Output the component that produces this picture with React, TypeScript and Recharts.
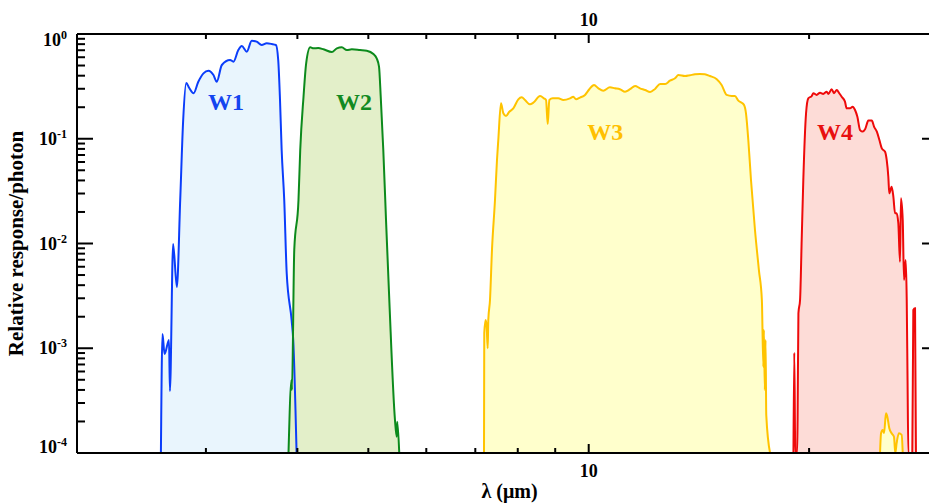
import React from 'react';
import { ComposedChart, Area, XAxis, YAxis, ReferenceDot, Label } from 'recharts';

// ---- data (wavelength in micron, relative response/photon)
const w1Wavelength = [2.604, 2.617, 2.634, 2.671, 2.679, 2.706, 2.738, 2.767, 2.793, 2.820, 2.847, 2.886, 2.928, 2.977, 3.024, 3.072, 3.104, 3.154, 3.237, 3.271, 3.322, 3.358, 3.411, 3.465, 3.519, 3.575, 3.632, 3.689, 3.739, 3.766, 3.786, 3.807, 3.838, 3.868, 3.928, 3.948, 3.990];
const w1Response = [1e-4, 1.37e-3, 8.8e-4, 1.2e-3, 3.9e-4, 9.9e-3, 3.85e-3, 0.026, 0.151, 0.340, 0.305, 0.272, 0.348, 0.421, 0.446, 0.406, 0.351, 0.506, 0.565, 0.544, 0.703, 0.768, 0.678, 0.863, 0.845, 0.785, 0.815, 0.803, 0.785, 0.565, 0.252, 0.078, 0.026, 5.2e-3, 1.86e-3, 1.2e-3, 1e-4];

const w2Wavelength = [3.890, 3.927, 3.932, 3.961, 4.014, 4.036, 4.078, 4.112, 4.165, 4.208, 4.271, 4.343, 4.458, 4.529, 4.600, 4.673, 4.747, 4.872, 4.975, 5.080, 5.133, 5.171, 5.199, 5.225, 5.241, 5.286, 5.341, 5.437, 5.466, 5.476, 5.511];
const w2Response = [1e-4, 4.97e-4, 4.0e-4, 8.7e-3, 0.026, 0.078, 0.252, 0.525, 0.746, 0.730, 0.735, 0.714, 0.673, 0.730, 0.746, 0.703, 0.714, 0.703, 0.693, 0.644, 0.586, 0.488, 0.252, 0.121, 0.078, 0.0168, 2.89e-3, 2.07e-4, 1.43e-4, 1.99e-4, 1e-4];

const w3Wavelength = [7.194, 7.200, 7.232, 7.255, 7.278, 7.292, 7.331, 7.377, 7.447, 7.494, 7.525, 7.589, 7.645, 7.709, 7.790, 7.889, 8.014, 8.100, 8.185, 8.314, 8.401, 8.581, 8.688, 8.744, 8.790, 8.835, 8.931, 9.086, 9.233, 9.429, 9.527, 9.609, 9.730, 9.884, 10.02, 10.17, 10.31, 10.47, 10.69, 10.86, 11.03, 11.21, 11.39, 11.57, 11.75, 11.94, 12.13, 12.32, 12.52, 12.72, 12.91, 13.12, 13.26, 13.54, 13.75, 13.97, 14.19, 14.41, 14.64, 14.96, 15.19, 15.43, 15.68, 15.84, 16.01, 16.18, 16.30, 16.40, 16.52, 16.66, 16.87, 17.08, 17.24, 17.32, 17.35, 17.40, 17.44, 17.48, 17.69];
const w3Response = [1e-4, 1.40e-3, 1.86e-3, 1.60e-3, 1.0e-3, 1.86e-3, 2.89e-3, 8.7e-3, 0.026, 0.0627, 0.0973, 0.218, 0.175, 0.165, 0.181, 0.195, 0.238, 0.249, 0.234, 0.213, 0.221, 0.256, 0.243, 0.234, 0.138, 0.234, 0.243, 0.243, 0.234, 0.243, 0.252, 0.238, 0.247, 0.262, 0.297, 0.326, 0.303, 0.288, 0.310, 0.303, 0.297, 0.281, 0.297, 0.319, 0.303, 0.292, 0.279, 0.299, 0.333, 0.333, 0.358, 0.378, 0.406, 0.397, 0.404, 0.412, 0.415, 0.412, 0.397, 0.370, 0.326, 0.262, 0.256, 0.256, 0.231, 0.221, 0.210, 0.175, 0.0973, 0.0404, 0.01345, 5.58e-3, 2.89e-3, 6.62e-4, 1.49e-3, 4.0e-4, 1.2e-3, 2.3e-4, 1e-4];

const w3TailWavelength = [25.00, 25.08, 25.21, 25.32, 25.47, 25.58, 25.74, 25.93, 26.12, 26.23, 26.34, 26.53, 26.76, 26.85];
const w3TailResponse = [1e-4, 1.54e-4, 1.66e-4, 1.55e-4, 2.39e-4, 2.22e-4, 1.72e-4, 1.54e-4, 1.43e-4, 1e-4, 1.24e-4, 1.54e-4, 1.49e-4, 1e-4];

const w4Wavelength = [19.04, 19.09, 19.15, 19.26, 19.29, 19.34, 19.44, 19.54, 19.64, 19.81, 19.95, 20.17, 20.27, 20.48, 20.70, 20.91, 21.14, 21.25, 21.47, 21.63, 21.82, 21.99, 22.16, 22.39, 22.51, 22.75, 22.94, 23.11, 23.28, 23.48, 23.68, 23.85, 24.10, 24.36, 24.54, 24.75, 24.95, 25.14, 25.40, 25.53, 25.66, 25.74, 25.93, 26.07, 26.21, 26.34, 26.48, 26.62, 26.70, 26.85, 26.96, 27.10, 27.19, 27.26, 27.33, 27.67, 27.76, 27.91, 27.99];
const w4Response = [1e-4, 9.06e-4, 1e-4, 1e-4, 2.07e-4, 2.16e-3, 2.89e-3, 0.0108, 0.0404, 0.175, 0.243, 0.256, 0.272, 0.262, 0.275, 0.268, 0.281, 0.268, 0.297, 0.272, 0.292, 0.272, 0.252, 0.226, 0.195, 0.195, 0.202, 0.188, 0.162, 0.121, 0.117, 0.123, 0.149, 0.149, 0.130, 0.117, 0.0973, 0.081, 0.0752, 0.0627, 0.0434, 0.0301, 0.0349, 0.028, 0.0194, 0.0194, 0.0156, 6.7e-3, 0.027, 0.0168, 4.48e-3, 6.96e-3, 2.89e-3, 4.97e-4, 1e-4, 1e-4, 2.32e-3, 2.41e-3, 1e-4];

const xTicks = [3, 4, 5, 6, 7, 8, 9, 10, 20];
const xLabeledTicks = [10];
const yTicks = [
  0.0001, 0.0002, 0.0003, 0.0004, 0.0005, 0.0006, 0.0007, 0.0008, 0.0009,
  0.001, 0.002, 0.003, 0.004, 0.005, 0.006, 0.007, 0.008, 0.009,
  0.01, 0.02, 0.03, 0.04, 0.05, 0.06, 0.07, 0.08, 0.09,
  0.1, 0.2, 0.3, 0.4, 0.5, 0.6, 0.7, 0.8, 0.9, 1,
];

const bandLabels = [
  { name: 'W1', x: 3.196, y: 0.229, color: '#1344f0' },
  { name: 'W2', x: 4.78, y: 0.229, color: '#128a22' },
  { name: 'W3', x: 10.53, y: 0.1186, color: '#ffc000' },
  { name: 'W4', x: 21.7, y: 0.1186, color: '#e81010' },
];

const series = [
  { key: 'w1', wl: w1Wavelength, r: w1Response, stroke: '#0b3dfa', fill: '#e9f5fd' },
  { key: 'w2', wl: w2Wavelength, r: w2Response, stroke: '#0c8a1c', fill: '#e3efc9' },
  { key: 'w3', wl: w3Wavelength, r: w3Response, stroke: '#ffc300', fill: '#ffffcc' },
  { key: 'w4', wl: w4Wavelength, r: w4Response, stroke: '#ee0a0a', fill: '#fddcd7' },
  { key: 'w3t', wl: w3TailWavelength, r: w3TailResponse, stroke: '#ffc300', fill: '#ffffcc' },
];

const chartData: any[] = series.flatMap((s) => s.wl.map((x, i) => ({ x, [s.key]: s.r[i] })));

const FONT = '"Liberation Serif", "Times New Roman", serif';

function isMajor(v: number) {
  const l = Math.log10(v);
  return Math.abs(l - Math.round(l)) < 1e-6;
}

const LeftTick = (props: any) => {
  const { x, y, payload } = props;
  const v = payload.value;
  const major = isMajor(v);
  const exp = Math.round(Math.log10(v));
  let base = y + 6;
  if (exp === 0) base = y + 12;
  if (exp === -4) base = y;
  return (
    <g>
      <line x1={x} y1={y} x2={x + (major ? 16 : 8)} y2={y} stroke="#000" strokeWidth={2} />
      {major && (
        <text x={x - 10} y={base} textAnchor="end" fontFamily={FONT} fontWeight="bold" fontSize={18} fill="#000">
          10<tspan dy={-7} fontSize={12}>{String(exp)}</tspan>
        </text>
      )}
    </g>
  );
};

const RightTick = (props: any) => {
  const { x, y, payload } = props;
  const major = isMajor(payload.value);
  return <line x1={x} y1={y} x2={x - (major ? 16 : 8)} y2={y} stroke="#000" strokeWidth={2} />;
};

const BottomTick = (props: any) => {
  const { x, y, payload } = props;
  const labeled = xLabeledTicks.includes(payload.value);
  return (
    <g>
      <line x1={x} y1={y} x2={x} y2={y - (labeled ? 9 : 5)} stroke="#000" strokeWidth={2} />
      {labeled && (
        <text x={x} y={y + 24} textAnchor="middle" fontFamily={FONT} fontWeight="bold" fontSize={18} fill="#000">
          {String(payload.value)}
        </text>
      )}
    </g>
  );
};

const TopTick = (props: any) => {
  const { x, y, payload } = props;
  const labeled = xLabeledTicks.includes(payload.value);
  return (
    <g>
      <line x1={x} y1={y} x2={x} y2={y + (labeled ? 9 : 5)} stroke="#000" strokeWidth={2} />
      {labeled && (
        <text x={x} y={y - 8} textAnchor="middle" fontFamily={FONT} fontWeight="bold" fontSize={18} fill="#000">
          {String(payload.value)}
        </text>
      )}
    </g>
  );
};

const XTitle = (props: any) => {
  const vb = props.viewBox || { x: 77, width: 861, y: 453 };
  return (
    <text x={vb.x + vb.width / 2 + 2} y={vb.y + 45} textAnchor="middle" fontFamily={FONT} fontWeight="bold" fontSize={20} fill="#000">
      λ (μm)
    </text>
  );
};

const YTitle = (props: any) => {
  const vb = props.viewBox || { y: 34, height: 419 };
  const cy = vb.y + vb.height / 2;
  return (
    <text x={23} y={cy} transform={`rotate(-90, 23, ${cy})`} textAnchor="middle" fontFamily={FONT} fontWeight="bold" fontSize={21} fill="#000">
      Relative response/photon
    </text>
  );
};

export default function App() {
  return (
    <div style={{ position: 'fixed', left: 0, top: 0, width: 929, height: 503, overflow: 'hidden', background: '#fff' }}>
      <ComposedChart width={950} height={503} data={chartData} margin={{ top: 0, right: 0, bottom: 0, left: 0 }}>
        <XAxis
          xAxisId="b"
          dataKey="x"
          type="number"
          scale="log"
          domain={[2, 30]}
          allowDataOverflow
          ticks={xTicks}
          interval={0}
          tickSize={0}
          tickMargin={0}
          tickLine={false}
          tick={<BottomTick />}
          height={50}
          orientation="bottom"
          axisLine={{ stroke: '#000', strokeWidth: 2 }}
        >
          <Label content={<XTitle />} />
        </XAxis>
        <XAxis
          xAxisId="t"
          dataKey="x"
          type="number"
          scale="log"
          domain={[2, 30]}
          allowDataOverflow
          ticks={xTicks}
          interval={0}
          tickSize={0}
          tickMargin={0}
          tickLine={false}
          tick={<TopTick />}
          height={34}
          orientation="top"
          axisLine={{ stroke: '#000', strokeWidth: 2 }}
        />
        <YAxis
          yAxisId="l"
          type="number"
          scale="log"
          domain={[1e-4, 1]}
          allowDataOverflow
          ticks={yTicks}
          interval={0}
          tickSize={0}
          tickMargin={0}
          tickLine={false}
          tick={<LeftTick />}
          width={77}
          orientation="left"
          axisLine={{ stroke: '#000', strokeWidth: 2 }}
        >
          <Label content={<YTitle />} />
        </YAxis>
        <YAxis
          yAxisId="r"
          type="number"
          scale="log"
          domain={[1e-4, 1]}
          allowDataOverflow
          ticks={yTicks}
          interval={0}
          tickSize={0}
          tickMargin={0}
          tickLine={false}
          tick={<RightTick />}
          width={12}
          orientation="right"
          axisLine={{ stroke: '#000', strokeWidth: 2 }}
        />
        {series.map((s) => (
          <Area
            key={`fill-${s.key}`}
            xAxisId="b"
            yAxisId="l"
            dataKey={s.key}
            type="monotoneX"
            connectNulls
            baseValue={1e-4}
            stroke="none"
            fill={s.fill}
            fillOpacity={1}
            dot={false}
            activeDot={false}
            isAnimationActive={false}
          />
        ))}
        {series.map((s) => (
          <Area
            key={`line-${s.key}`}
            xAxisId="b"
            yAxisId="l"
            dataKey={s.key}
            type="monotoneX"
            connectNulls
            baseValue={1e-4}
            stroke={s.stroke}
            strokeWidth={2}
            fill="none"
            dot={false}
            activeDot={false}
            isAnimationActive={false}
          />
        ))}
        {bandLabels.map((b) => (
          <ReferenceDot
            key={b.name}
            xAxisId="b"
            yAxisId="l"
            x={b.x}
            y={b.y}
            r={0}
            fill="none"
            stroke="none"
            label={{ value: b.name, position: 'center', fill: b.color, fontSize: 24, fontWeight: 'bold', fontFamily: FONT }}
          />
        ))}
      </ComposedChart>
    </div>
  );
}
